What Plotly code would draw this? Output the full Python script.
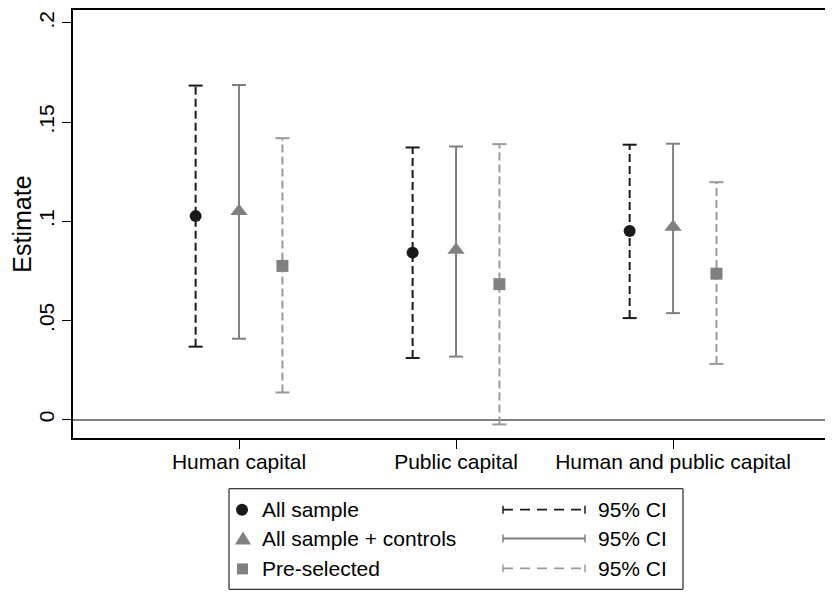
import plotly.graph_objects as go

# ── Data ─────────────────────────────────────────────────────────────────────
categories = ["Human capital", "Public capital", "Human and public capital"]

series_names = ["All sample", "All sample + controls", "Pre-selected"]

est_all      = [0.1026, 0.0842, 0.0951]
lo_all       = [0.0368, 0.0311, 0.0512]
hi_all       = [0.1684, 0.1372, 0.1386]

est_controls = [0.1050, 0.0855, 0.0971]
lo_controls  = [0.0408, 0.0318, 0.0537]
hi_controls  = [0.1687, 0.1377, 0.1391]

est_presel   = [0.0775, 0.0683, 0.0736]
lo_presel    = [0.0137, -0.0024, 0.0281]
hi_presel    = [0.1419, 0.1389, 0.1197]

ytick_vals   = [0, 0.05, 0.1, 0.15, 0.2]
ytick_text   = ["0", ".05", ".1", ".15", ".2"]

# ── Styling ───────────────────────────────────────────────────────────────────
# the page body has an 8px margin, so the figure is drawn 8px smaller and
# everything below is given in window pixels
BODY = 8
W, H = 833 - BODY, 592 - BODY
ML, MR, MT, MB = 65, 0, 0, 154
FONT = "Liberation Sans, Arial, sans-serif"
FS = 21

BLACK = "#1a1a1a"
GRAY = "#808080"
LGRAY = "#9a9a9a"

STYLES = [
    dict(symbol="circle", size=12, color=BLACK, line=BLACK, dash="8px,4px",
         leg_dash="10px,7px", offset=-0.2),
    dict(symbol="triangle-up", size=15, color=GRAY, line=GRAY, dash="solid",
         leg_dash="solid", offset=0.0),
    dict(symbol="square", size=12, color=GRAY, line=LGRAY, dash="8px,4px",
         leg_dash="10px,7px", offset=0.2),
]

DATA = [
    (est_all, lo_all, hi_all),
    (est_controls, lo_controls, hi_controls),
    (est_presel, lo_presel, hi_presel),
]

xpos = [1, 2, 3]

fig = go.Figure()

for name, st, (est, lo, hi) in zip(series_names, STYLES, DATA):
    xs = [x + st["offset"] for x in xpos]
    # CI spikes
    seg_x, seg_y = [], []
    for x, a, b in zip(xs, lo, hi):
        seg_x += [x, x, None]
        seg_y += [a, b, None]
    fig.add_trace(go.Scatter(
        x=seg_x, y=seg_y, mode="lines", showlegend=False, hoverinfo="skip",
        line=dict(color=st["line"], width=2, dash=st["dash"]),
    ))
    # caps
    fig.add_trace(go.Scatter(
        x=xs + xs, y=lo + hi, mode="markers", showlegend=False, hoverinfo="skip",
        marker=dict(symbol="line-ew", size=10,
                    line=dict(color=st["line"], width=2)),
    ))
    # point estimates
    fig.add_trace(go.Scatter(
        x=xs, y=est, mode="markers", name=name, showlegend=False,
        marker=dict(symbol=st["symbol"], size=st["size"], color=st["color"],
                    line=dict(width=0)),
    ))

# ── Hand-drawn legend box (Stata style, two columns) ─────────────────────────
def px(x):
    return (x - BODY - ML) / (W - ML - MR)

def py(y):
    return (H - MB - (y - BODY)) / (H - MT - MB)

shapes = [dict(type="rect", xref="paper", yref="paper",
               x0=px(229), x1=px(683), y0=py(590), y1=py(489),
               line=dict(color="black", width=1), fillcolor="white", layer="below")]
annotations = []
rows = [510, 539, 569]

shapes.append(dict(type="circle", xref="paper", yref="paper",
                   x0=px(236), x1=px(248), y0=py(516), y1=py(504),
                   fillcolor=BLACK, line=dict(width=0)))
shapes.append(dict(type="path", xref="paper", yref="paper",
                   path=f"M {px(235)},{py(545)} L {px(251)},{py(545)} L {px(243)},{py(532)} Z",
                   fillcolor=GRAY, line=dict(width=0)))
shapes.append(dict(type="rect", xref="paper", yref="paper",
                   x0=px(237), x1=px(248), y0=py(575), y1=py(564),
                   fillcolor=GRAY, line=dict(width=0)))

for name, st, ry in zip(series_names, STYLES, rows):
    annotations.append(dict(xref="paper", yref="paper", x=px(260), y=py(ry),
                            xanchor="left", yanchor="middle", text=name,
                            showarrow=False, font=dict(size=FS)))
    annotations.append(dict(xref="paper", yref="paper", x=px(596), y=py(ry),
                            xanchor="left", yanchor="middle", text="95% CI",
                            showarrow=False, font=dict(size=FS)))
    lw = 2 if st["leg_dash"] == "solid" else 1.8
    shapes.append(dict(type="line", xref="paper", yref="paper",
                       x0=px(503), x1=px(585), y0=py(ry), y1=py(ry),
                       line=dict(color=st["line"], width=lw, dash=st["leg_dash"])))
    for cx in (503, 585):
        shapes.append(dict(type="line", xref="paper", yref="paper",
                           x0=px(cx), x1=px(cx), y0=py(ry - 4), y1=py(ry + 4),
                           line=dict(color=st["line"], width=1.5)))

# ── Layout ────────────────────────────────────────────────────────────────────
fig.update_layout(
    width=W, height=H,
    margin=dict(l=ML, r=MR, t=MT, b=MB),
    plot_bgcolor="white", paper_bgcolor="white",
    font=dict(family=FONT, size=FS, color="black"),
    shapes=shapes, annotations=annotations,
    showlegend=False,
)

fig.update_xaxes(
    range=[0.235, 3.737], tickvals=xpos, ticktext=categories,
    showgrid=False, zeroline=False,
    showline=True, linecolor="black", linewidth=2, mirror=True,
    ticks="outside", ticklen=9, tickwidth=1, tickcolor="black",
    ticklabelstandoff=-5,
)
fig.update_yaxes(
    range=[-0.00924, 0.2065], tickvals=ytick_vals, ticktext=ytick_text,
    tickangle=-90, showgrid=False,
    zeroline=True, zerolinecolor=GRAY, zerolinewidth=2,
    showline=True, linecolor="black", linewidth=2,
    ticks="outside", ticklen=9, tickwidth=1, tickcolor="black",
    title=dict(text="Estimate", standoff=0),
)

fig.write_html("out.html")
